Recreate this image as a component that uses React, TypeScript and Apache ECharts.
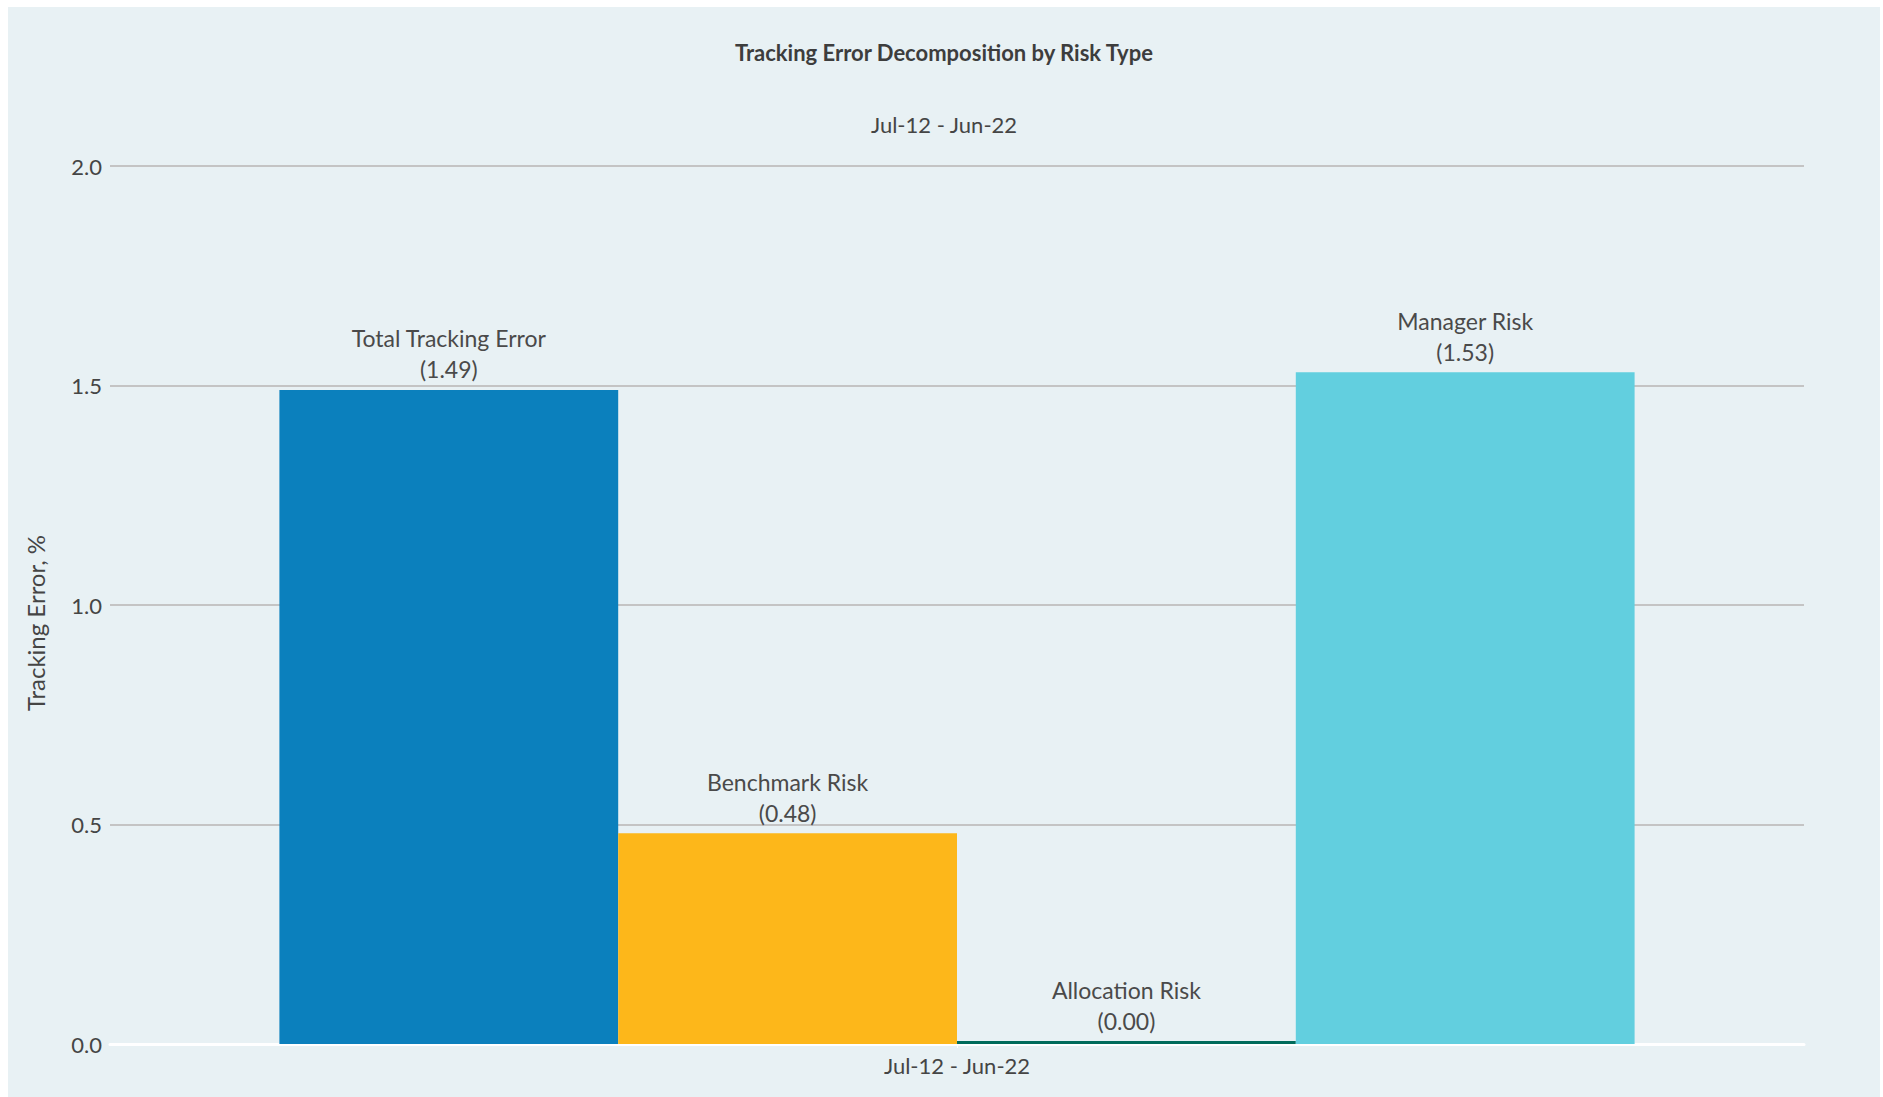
import React, { useEffect, useRef } from "react";
import * as echarts from "echarts";

const categories = ["Jul-12 - Jun-22"];
const seriesNames = ["Total Tracking Error", "Benchmark Risk", "Allocation Risk", "Manager Risk"];
const seriesValues = [1.49, 0.48, 0.0, 1.53];
const seriesColors = ["#0b80bd", "#fdb71a", "#006b5b", "#62cfdf"];
const yTicks = [0, 0.5, 1.0, 1.5, 2.0];

const FONT = "Lato, 'Open Sans', sans-serif";

export default function App() {
  const ref = useRef<HTMLDivElement>(null);
  useEffect(() => {
    if (!ref.current) return;
    const chart = echarts.init(ref.current, null, { renderer: "svg" });
    chart.setOption({
      animation: false,
      backgroundColor: "#e8f1f4",
      textStyle: { fontFamily: FONT },
      title: [
        {
          text: "Tracking Error Decomposition by Risk Type",
          left: "center",
          top: 29,
          textStyle: { fontFamily: FONT, fontSize: 22, fontWeight: "bold", color: "#3d3d3d" },
        },
        {
          text: categories[0],
          left: "center",
          top: 101,
          textStyle: { fontFamily: FONT, fontSize: 22, fontWeight: "normal", color: "#454545" },
        },
      ],
      grid: { left: 102, right: 76, top: 159, bottom: 53, containLabel: false },
      xAxis: {
        type: "category",
        data: categories,
        axisLine: { show: true, lineStyle: { color: "#ffffff", width: 3 } },
        axisTick: { show: true, alignWithLabel: true, length: 4, lineStyle: { color: "#ffffff" } },
        axisLabel: { fontFamily: FONT, fontSize: 22, color: "#454545", margin: 10 },
      },
      yAxis: {
        type: "value",
        min: yTicks[0],
        max: yTicks[yTicks.length - 1],
        interval: 0.5,
        name: "Tracking Error, %",
        nameLocation: "middle",
        nameGap: 63,
        nameTextStyle: { fontFamily: FONT, fontSize: 24, color: "#454545", padding: [0, 36, 0, 0] },
        axisLine: { show: false },
        axisTick: { show: false },
        axisLabel: {
          fontFamily: FONT,
          fontSize: 22,
          color: "#454545",
          margin: 8,
          formatter: (v: number) => v.toFixed(1),
        },
        splitLine: { show: true, lineStyle: { color: "#c4c4c4", width: 2 } },
      },
      series: seriesNames.map((name, i) => ({
        name,
        type: "bar",
        data: [seriesValues[i]],
        barGap: "0%",
        barCategoryGap: "20%",
        barMinHeight: i === 2 ? 3 : 0,
        itemStyle: { color: seriesColors[i] },
        label: {
          show: true,
          position: "top",
          distance: 5,
          fontFamily: FONT,
          fontSize: 23,
          lineHeight: 31,
          color: "#4a4a4a",
          align: "center",
          formatter: (p: any) => `${p.seriesName}\n(${Number(p.value).toFixed(2)})`,
        },
      })),
    });
    return () => chart.dispose();
  }, []);
  return (
    <div
      ref={ref}
      style={{ position: "absolute", left: 8, top: 7, width: 1872, height: 1090 }}
    />
  );
}
